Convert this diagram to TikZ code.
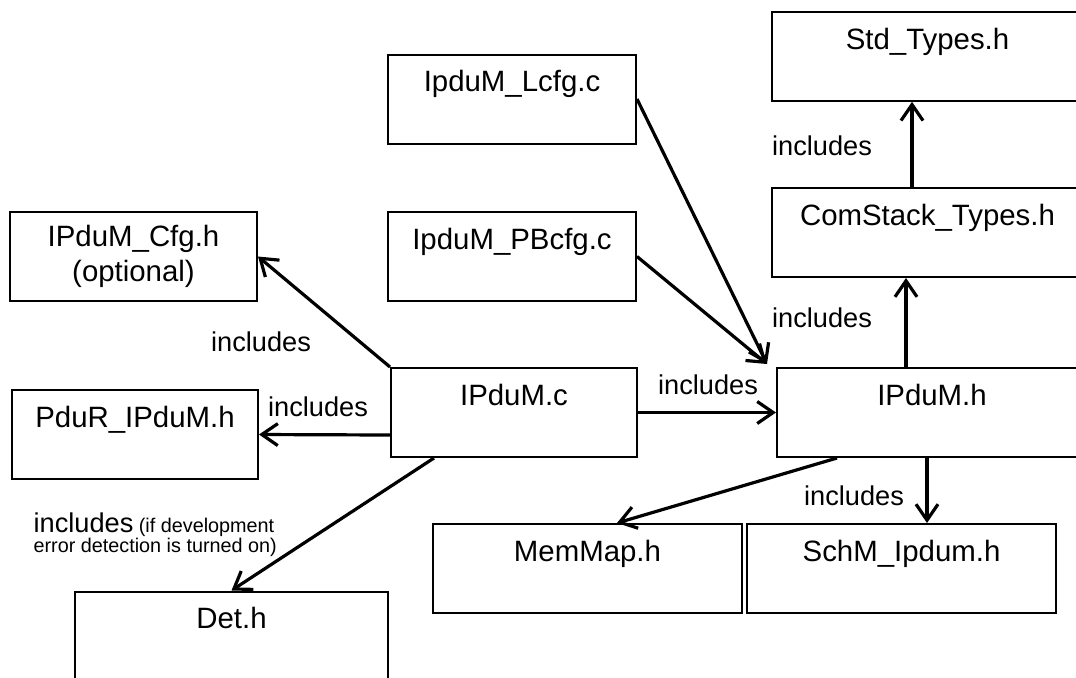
\documentclass[tikz,border=0pt]{standalone}
\usepackage{fontspec}
\setmainfont{Liberation Sans}
\usetikzlibrary{arrows.meta}
\newcommand{\boxfont}{\fontsize{14.7}{17.5}\selectfont}
\newcommand{\incfont}{\fontsize{13.6}{16}\selectfont}
\newcommand{\notefont}{\fontsize{9.9}{8.8}\selectfont}

\begin{document}
\begin{tikzpicture}[x=0.5pt, y=-0.5pt, ->, >={Straight Barb[length=8pt,width=11pt]}, line width=1.6pt,
  file/.style={draw, line width=1pt, minimum height=44.5pt, inner sep=0pt},
  ftext/.style={anchor=base, yshift=-19.2pt, inner sep=0pt, font=\boxfont},
  inc/.style={font=\incfont, inner sep=0pt}]
      \path[use as bounding box] (0,0) rectangle (1076,677);
      \clip (0,0) rectangle (1076,677);
      % header files on the right
      \node [file, minimum width=155.5pt, label={[ftext]north:Std\_Types.h}] (std) at (927.5,56.25) {};
      \node [file, minimum width=155.5pt, label={[ftext]north:ComStack\_Types.h}] (comstack) at (927.5,232.5) {};
      \node [file, minimum width=155pt, label={[ftext]north:IPduM.h}] (ipdumh) at (932,412.5) {};
      \node [file, minimum width=154.5pt, label={[ftext]north:MemMap.h}] (memmap) at (587.5,568.5) {};
      \node [file, minimum width=154.5pt, label={[ftext]north:SchM\_Ipdum.h}] (schm) at (901.5,568.5) {};
      % sources in the middle
      \node [file, minimum width=124pt, label={[ftext]north:IpduM\_Lcfg.c}] (lcfg) at (512,99) {};
      \node [file, minimum width=124pt, label={[ftext]north:IpduM\_PBcfg.c}] (pbcfg) at (512,256.5) {};
      \node [file, minimum width=123pt, label={[ftext]north:IPduM.c}] (ipdumc) at (514,412.5) {};
      % left side
      \node [file, minimum width=123.5pt, align=center, font=\boxfont] (cfg) at (133.5,256.5) {IPduM\_Cfg.h\\(optional)};
      \node [file, minimum width=123pt, label={[ftext]north:PduR\_IPduM.h}] (pdur) at (135,434.5) {};
      \node [file, minimum width=156.5pt, label={[ftext]north:Det.h}] (det) at (231.5,636) {};

      \node [inc] (incstd) at (822,146) {includes};
      \node [inc] (inccom) at (822,318) {includes};
      \node [inc] (inch) at (708,385) {includes};
      \node [inc] (incschm) at (854,496) {includes};
      \node [inc] (inccfg) at (261,342) {includes};
      \node [inc] (incpdur) at (318,407) {includes};
      \node [inc, font=\notefont, anchor=north west, align=left] (incdet) at (32,511)
        {{\incfont includes} (if development\\error detection is turned on)};

      \path
      (ipdumc.north west) edge (cfg.east)
      ([yshift=-11.25pt]ipdumc.west) edge (pdur.east)
      (ipdumc.east) edge (ipdumh.west)
      ([xshift=22pt]ipdumc.south west) edge (det.north)
      (lcfg.east) edge ([shift={(-4.5pt,1.5pt)}]ipdumh.north west)
      (pbcfg.east) edge ([shift={(-4.5pt,1.5pt)}]ipdumh.north west)
      ([xshift=-13pt]ipdumh.north) edge ([xshift=-10.75pt]comstack.south)
      ([xshift=-7.75pt]comstack.north) edge ([xshift=-7.75pt]std.south)
      ([xshift=-2.5pt]ipdumh.south) edge ([xshift=12.75pt]schm.north)
      ([xshift=30.5pt]ipdumh.south west) edge ([xshift=14.75pt]memmap.north)
      ;
\end{tikzpicture}
\end{document}
